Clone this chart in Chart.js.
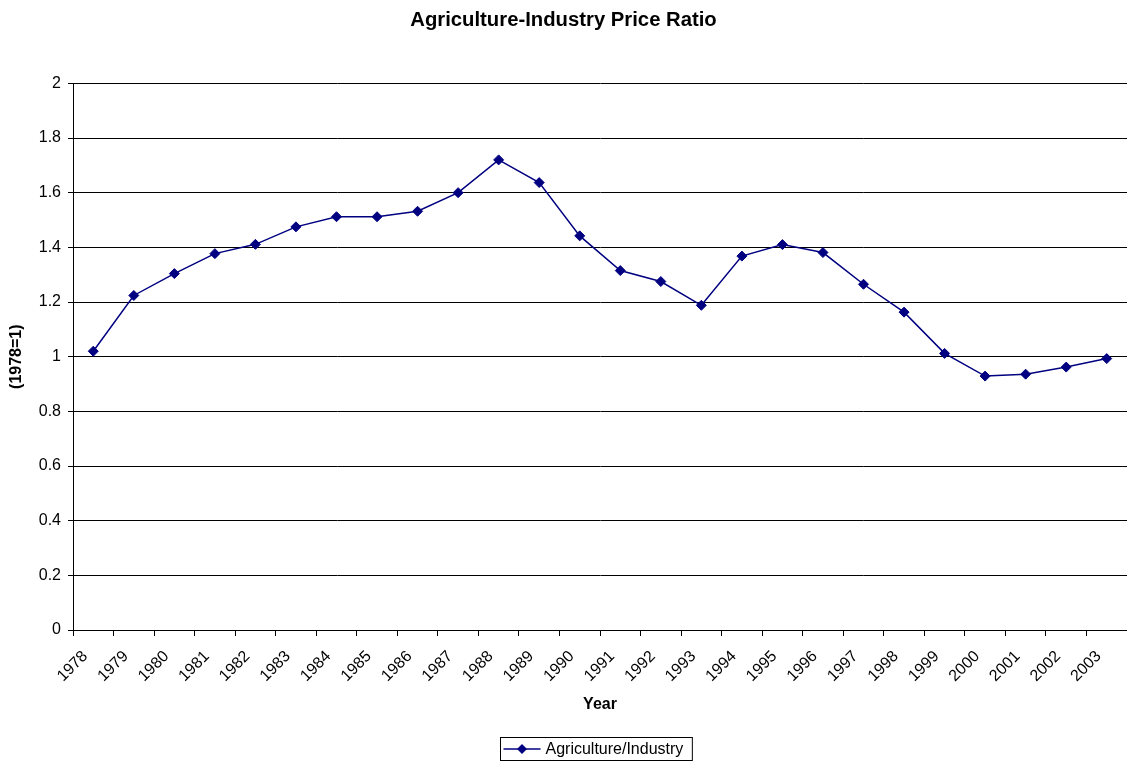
<!DOCTYPE html>
<html>
<head>
<meta charset="utf-8">
<title>Agriculture-Industry Price Ratio</title>
<script src="https://cdn.jsdelivr.net/npm/chart.js@4/dist/chart.umd.min.js"></script>
<style>
  html, body { margin: 0; padding: 0; background: #fff; }
  #wrap { width: 1127px; height: 763px; }
</style>
</head>
<body>
<div id="wrap">
  <canvas id="priceChart" width="1127" height="763"></canvas>
</div>

<script>
// category axis: one per year
var years = ["1978", "1979", "1980", "1981", "1982", "1983", "1984", "1985", "1986",
             "1987", "1988", "1989", "1990", "1991", "1992", "1993", "1994", "1995",
             "1996", "1997", "1998", "1999", "2000", "2001", "2002", "2003"];

// agriculture / industry price ratio, 1978 = 1
var ratio = [1.02, 1.224, 1.304, 1.377, 1.411, 1.475, 1.512, 1.512, 1.532,
             1.600, 1.720, 1.637, 1.442, 1.315, 1.275, 1.188, 1.368, 1.410,
             1.381, 1.265, 1.163, 1.012, 0.929, 0.936, 0.962, 0.993];

var seriesLabel = "Agriculture/Industry";
var yMin = 0, yMax = 2, yStep = 0.2;

var navy = "#000080";
var fontFamily = "'Liberation Sans', Arial, sans-serif";

// Excel style legend: framed box with line + diamond marker
var boxLegend = {
  id: 'boxLegend',
  afterDraw: function(chart) {
    var ctx = chart.ctx;
    var area = chart.chartArea;
    var ds = chart.data.datasets[0];
    ctx.save();
    ctx.font = "16px " + fontFamily;
    var textW = ctx.measureText(ds.label).width;
    var boxW = textW + 54, boxH = 23;
    var x0 = Math.round((area.left + area.right) / 2 - boxW / 2) - 3.5;
    var y0 = 737.5;
    ctx.strokeStyle = "#000";
    ctx.lineWidth = 1;
    ctx.strokeRect(x0, y0, boxW, boxH);
    var cy = y0 + boxH / 2;
    ctx.strokeStyle = navy;
    ctx.lineWidth = 1.5;
    ctx.beginPath();
    ctx.moveTo(x0 + 3, cy);
    ctx.lineTo(x0 + 40, cy);
    ctx.stroke();
    ctx.fillStyle = navy;
    ctx.beginPath();
    ctx.moveTo(x0 + 21.5, cy - 5);
    ctx.lineTo(x0 + 26.5, cy);
    ctx.lineTo(x0 + 21.5, cy + 5);
    ctx.lineTo(x0 + 16.5, cy);
    ctx.closePath();
    ctx.fill();
    ctx.fillStyle = "#000";
    ctx.textBaseline = "middle";
    ctx.textAlign = "left";
    ctx.fillText(ds.label, x0 + 45, cy + 1);
    ctx.restore();
  }
};

new Chart(document.getElementById("priceChart").getContext("2d"), {
  type: 'line',
  data: {
    labels: years,
    datasets: [{
      label: seriesLabel,
      data: ratio,
      borderColor: navy,
      backgroundColor: navy,
      borderWidth: 1.5,
      pointStyle: 'rectRot',
      pointRadius: 5,
      pointBorderWidth: 1,
      pointBackgroundColor: navy,
      pointBorderColor: navy,
      tension: 0
    }]
  },
  options: {
    responsive: false,
    animation: false,
    devicePixelRatio: 1,
    layout: { autoPadding: false, padding: 0 },
    plugins: {
      legend: { display: false },
      tooltip: { enabled: false },
      title: {
        display: true,
        text: "Agriculture-Industry Price Ratio",
        color: "#000",
        font: { family: fontFamily, size: 20.3, weight: 'bold' },
        padding: { top: 8, bottom: 51 }
      }
    },
    scales: {
      x: {
        type: 'category',
        offset: true,
        grid: {
          display: true,
          drawOnChartArea: false,
          drawTicks: true,
          tickLength: 6,
          color: "#000",
          offset: true
        },
        border: { color: "#000", width: 1 },
        ticks: {
          autoSkip: false,
          minRotation: 45,
          maxRotation: 45,
          color: "#000",
          padding: 11,
          labelOffset: -8,
          font: { family: fontFamily, size: 16 }
        },
        title: {
          display: true,
          text: "Year",
          color: "#000",
          font: { family: fontFamily, size: 16, weight: 'bold' },
          padding: { top: 4, bottom: 49 }
        },
        afterFit: function(scale) {
          scale.height = 133;
          scale.paddingLeft = 0;
          scale.paddingRight = 0;
        }
      },
      y: {
        min: yMin,
        max: yMax,
        grid: {
          color: "#000",
          lineWidth: 1,
          drawTicks: true,
          tickLength: 5
        },
        border: { color: "#000", width: 1 },
        ticks: {
          stepSize: yStep,
          color: "#000",
          padding: 7,
          font: { family: fontFamily, size: 16 },
          callback: function(value) { return String(+value.toFixed(2)); }
        },
        title: {
          display: true,
          text: "(1978=1)",
          color: "#000",
          font: { family: fontFamily, size: 16, weight: 'bold' },
          padding: { top: 7, bottom: 0 }
        },
        afterFit: function(scale) { scale.width = 73; }
      }
    }
  },
  plugins: [boxLegend]
});
</script>
</body>
</html>
